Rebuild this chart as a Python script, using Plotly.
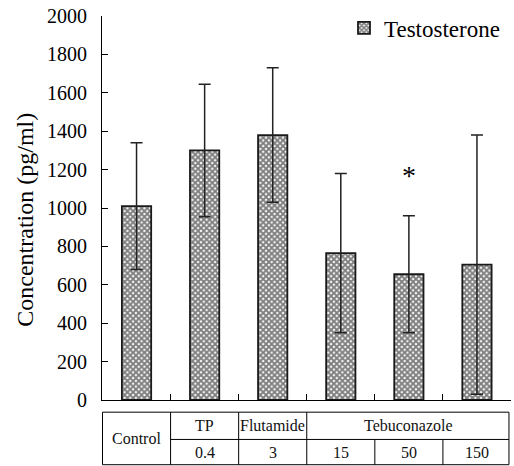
import plotly.graph_objects as go

categories = ["Control", "TP 0.4", "Flutamide 3", "Tebuconazole 15", "Tebuconazole 50", "Tebuconazole 150"]
testosterone = [1010, 1300, 1380, 765, 655, 705]
errors = [330, 345, 350, 415, 305, 675]
significant = [False, False, False, False, True, False]

group_labels = ["Control", "TP", "Flutamide", "Tebuconazole"]
group_spans = [(0, 0), (1, 1), (2, 2), (3, 5)]
dose_labels = ["", "0.4", "3", "15", "50", "150"]

FONT = "Liberation Serif"

fig = go.Figure()
fig.add_trace(go.Bar(
    x=categories, y=testosterone, name="Testosterone",
    width=0.43,
    marker=dict(color="white",
                line=dict(color="#1a1a1a", width=1.8),
                pattern=dict(shape="x", size=4, solidity=0.72,
                             fgcolor="black", bgcolor="white", fillmode="overlay")),
    error_y=dict(type="data", array=errors, symmetric=True, color="#222",
                 thickness=1.5, width=6),
))

annotations = []
for i, s in enumerate(significant):
    if s:
        annotations.append(dict(x=categories[i], y=testosterone[i] + errors[i] + 210,
                                xref="x", yref="y", text="*", showarrow=False,
                                font=dict(family=FONT, size=28, color="black"),
                                yanchor="middle"))

# Table under x-axis
def py(pix):
    return (400.5 - pix) / 384.5

y_top, y_mid, y_bot = py(412.7), py(440), py(465.3)
x_left, x_right = -0.5, 5.47
shapes = []
def line(x0, y0, x1, y1):
    shapes.append(dict(type="line", xref="x", yref="paper", x0=x0, y0=y0, x1=x1, y1=y1,
                       line=dict(color="black", width=1)))
line(x_left, y_top, x_right, y_top)
line(x_left, y_bot, x_right, y_bot)
line(0.5, y_mid, x_right, y_mid)
line(x_left, y_top, x_left, y_bot)
line(x_right, y_top, x_right, y_bot)
for (a, b) in group_spans[1:]:
    line(a - 0.5, y_top, a - 0.5, y_bot)
for i in range(len(categories)):
    if i >= 1 and not any(a == i for a, b in group_spans):
        line(i - 0.5, y_mid, i - 0.5, y_bot)

tfont = dict(family=FONT, size=16, color="#111")
for lab, (a, b) in zip(group_labels, group_spans):
    yy = (y_top + y_bot) / 2 if a == 0 else (y_top + y_mid) / 2
    annotations.append(dict(x=(a + b) / 2, y=yy, xref="x", yref="paper",
                            text=lab, showarrow=False, font=tfont,
                            xanchor="center", yanchor="middle"))
for i, d in enumerate(dose_labels):
    if d:
        annotations.append(dict(x=i, y=(y_mid + y_bot) / 2, xref="x", yref="paper",
                                text=d, showarrow=False, font=tfont,
                                xanchor="center", yanchor="middle"))

# y-axis title as annotation
annotations.append(dict(x=(25 - 102) / 409, y=py(220), xref="paper", yref="paper",
                        text="Concentration (pg/ml)", textangle=-90, showarrow=False,
                        xanchor="center", yanchor="middle",
                        font=dict(family=FONT, size=24, color="black")))

fig.update_layout(
    width=514, height=466,
    margin=dict(l=102, r=3, t=16, b=65.5),
    plot_bgcolor="white", paper_bgcolor="white",
    font=dict(family=FONT, color="black"),
    showlegend=True,
    legend=dict(x=(344 - 102) / 409, y=1.025, xanchor="left", yanchor="top",
                font=dict(family=FONT, size=23, color="black"),
                bgcolor="rgba(0,0,0,0)"),
    xaxis=dict(type="category", showline=True, linecolor="black", linewidth=1,
               ticks="inside", tickson="boundaries", ticklen=6, tickcolor="black",
               showticklabels=False, showgrid=False, zeroline=False),
    yaxis=dict(range=[0, 2000], dtick=200, showline=True, linecolor="black", linewidth=1,
               ticks="inside", ticklen=6, tickcolor="black", showgrid=False, zeroline=False,
               tickfont=dict(family=FONT, size=20, color="black"), ticklabelstandoff=10),
    shapes=shapes,
    annotations=annotations,
)

fig.write_html("out.html")
